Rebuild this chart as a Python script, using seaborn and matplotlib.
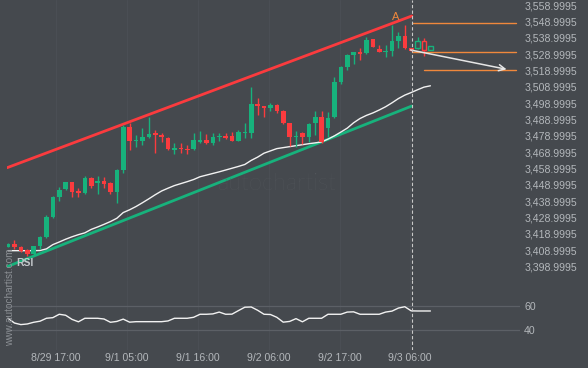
import numpy as np
import pandas as pd
import matplotlib
matplotlib.use("Agg")
import matplotlib.pyplot as plt
from matplotlib.patches import Rectangle
import seaborn as sns

# ---------------- data ----------------
opens = [3411.2, 3412.9, 3410.9, 3409.2, 3406.6, 3411.6, 3417.0, 3429.6, 3441.8, 3446.5,
         3450.6, 3445.3, 3443.9, 3453.4, 3450.0, 3451.6, 3450.0, 3444.9, 3458.1, 3484.6,
         3475.8, 3476.0, 3478.1, 3480.9, 3479.5, 3477.9, 3470.3, 3471.8, 3471.0, 3470.8,
         3475.4, 3476.5, 3474.8, 3478.5, 3478.9, 3478.9, 3476.0, 3480.6, 3480.6, 3498.5,
         3497.2, 3496.2, 3497.9, 3494.2, 3486.7, 3478.1, 3480.9, 3478.1, 3487.0, 3490.7,
         3483.6, 3490.7, 3511.7, 3521.3, 3528.4, 3530.4, 3529.5, 3538.2, 3532.1, 3530.4,
         3531.0, 3537.2, 3540.0, 3532.5, 3532.5, 3537.2, 3531.5]
highs = [3413.2, 3415.3, 3411.6, 3409.6, 3411.8, 3418.0, 3430.6, 3442.4, 3447.5, 3451.0,
         3451.0, 3447.3, 3454.5, 3454.0, 3454.5, 3453.7, 3450.5, 3458.5, 3485.6, 3486.7,
         3479.5, 3483.6, 3490.7, 3482.6, 3480.6, 3478.2, 3474.4, 3474.4, 3473.4, 3480.6,
         3482.0, 3479.9, 3480.9, 3480.6, 3480.6, 3481.5, 3482.6, 3486.7, 3509.0, 3502.0,
         3497.5, 3499.3, 3498.2, 3495.0, 3487.0, 3482.1, 3481.5, 3486.7, 3494.4, 3494.4,
         3493.8, 3515.2, 3521.6, 3528.8, 3530.4, 3532.5, 3539.6, 3538.5, 3534.5, 3534.5,
         3546.8, 3542.7, 3546.8, 3532.8, 3539.3, 3538.6, 3534.0]
lows = [3410.9, 3409.8, 3408.0, 3405.5, 3405.5, 3409.8, 3416.5, 3429.0, 3439.4, 3446.0,
        3441.8, 3441.8, 3443.5, 3446.9, 3443.4, 3446.9, 3443.4, 3437.8, 3456.1, 3470.3,
        3472.4, 3473.4, 3477.5, 3468.3, 3475.1, 3470.5, 3467.7, 3468.3, 3467.9, 3470.5,
        3474.4, 3474.0, 3473.4, 3476.0, 3476.9, 3475.6, 3475.6, 3477.5, 3477.5, 3491.7,
        3490.7, 3494.2, 3492.8, 3486.3, 3472.8, 3472.4, 3474.0, 3475.4, 3479.5, 3474.4,
        3478.5, 3489.9, 3510.5, 3519.3, 3522.7, 3525.4, 3528.9, 3533.3, 3530.2, 3527.0,
        3527.8, 3532.5, 3532.0, 3530.8, 3532.3, 3527.8, 3531.3]
closes = [3412.9, 3410.9, 3408.8, 3406.6, 3411.6, 3417.0, 3429.6, 3441.8, 3445.9, 3450.6,
          3444.9, 3443.9, 3453.4, 3448.5, 3451.6, 3449.4, 3444.9, 3458.1, 3484.6, 3476.0,
          3476.5, 3478.5, 3480.1, 3479.5, 3478.1, 3470.8, 3471.8, 3470.8, 3470.3, 3476.5,
          3476.5, 3474.8, 3478.5, 3478.9, 3477.9, 3476.0, 3481.5, 3481.2, 3498.5, 3497.2,
          3496.2, 3497.9, 3494.4, 3486.7, 3478.1, 3478.5, 3478.1, 3486.2, 3490.7, 3475.4,
          3489.7, 3512.1, 3521.3, 3528.4, 3530.1, 3528.9, 3537.6, 3533.5, 3530.4, 3531.1,
          3537.2, 3540.0, 3532.5, 3531.1, 3537.2, 3531.5, 3533.9]
moving_avg = [3408.8, 3408.8, 3408.8, 3408.8, 3408.8, 3408.9, 3409.9, 3412.5, 3414.1, 3415.8,
              3417.3, 3418.6, 3419.7, 3421.8, 3423.3, 3424.9, 3426.6, 3428.6, 3432.1, 3433.8,
              3435.8, 3438.1, 3440.5, 3443.0, 3445.3, 3447.0, 3448.6, 3449.8, 3451.0, 3452.3,
              3454.0, 3455.0, 3456.0, 3457.0, 3458.1, 3459.2, 3460.3, 3461.5, 3464.0, 3466.0,
              3468.4, 3469.8, 3471.2, 3471.8, 3472.4, 3473.0, 3473.6, 3474.2, 3474.7, 3475.3,
              3477.0, 3479.0, 3481.3, 3483.7, 3487.0, 3489.6, 3491.5, 3493.0, 3494.8, 3496.8,
              3499.2, 3501.8, 3503.9, 3505.5, 3507.2, 3508.8, 3509.6]
rsi = [49.9, 46.0, 44.7, 45.2, 46.6, 47.5, 49.9, 50.4, 53.2, 52.4,
       49.0, 47.0, 49.9, 49.9, 49.9, 49.3, 46.6, 47.3, 49.2, 46.7,
       47.1, 47.1, 47.1, 47.1, 47.1, 47.7, 49.9, 49.9, 49.9, 50.7,
       53.2, 53.2, 53.5, 55.0, 53.2, 53.3, 56.2, 59.0, 59.2, 56.5,
       53.2, 53.0, 50.7, 46.7, 47.3, 49.6, 47.0, 49.9, 49.9, 49.9,
       53.2, 53.2, 53.2, 55.0, 55.2, 53.2, 53.2, 53.2, 53.2, 55.0,
       55.8, 58.3, 59.4, 56.0, 55.9, 55.9, 55.9]
hollow_start = 64          # candles after the pattern end are drawn hollow

resist_x = [-0.16, 63.1]
resist_y = [3459.5, 3552.3]
support_x = [-0.16, 63.1]
support_y = [3399.0, 3497.25]

level_y = [3547.8, 3530.1, 3519.4]
level_x0 = [63.1, 63.1, 65.0]
level_x1 = 79.4
arrow_from = (62.9, 3531.5)
arrow_to = (77.9, 3519.7)
pattern_end = 63.1
point_label = ("A", 60.5, 3551.9)

x_tick_pos = [7.5, 18.6, 29.7, 40.8, 51.9, 62.8]
x_tick_labels = ["8/29 17:00", "9/1 05:00", "9/1 16:00", "9/2 06:00", "9/2 17:00", "9/3 06:00"]
price_ticks = [3398.9995, 3408.9995, 3418.9995, 3428.9995, 3438.9995, 3448.9995,
               3458.9995, 3468.9995, 3478.9995, 3488.9995, 3498.9995, 3508.9995,
               3518.9995, 3528.9995, 3538.9995, 3548.9995, 3558.9995]
rsi_ticks = [40, 60]

# ---------------- style ----------------
BG = "#45494e"
GREEN = "#17b27c"
RED = "#fb3b3e"
ORANGE = "#f0883c"
TXT = "#b3b7bb"

sns.set_theme(style="dark")
plt.rcParams["font.family"] = ["Liberation Sans", "DejaVu Sans"]

W, H = 588, 368
fig = plt.figure(figsize=(W / 100, H / 100), dpi=100, facecolor=BG)
ax = fig.add_axes([7 / W, 1 - 280 / H, 513 / W, 280 / H], facecolor=BG)
axr = fig.add_axes([7 / W, 1 - 350 / H, 513 / W, 70 / H], facecolor=BG, sharex=ax)

# faint logo watermark
for bx, bh in zip([186, 193, 200, 214, 221, 232], [10, 14, 12, 22, 16, 30]):
    fig.add_artist(Rectangle((bx / W, 1 - 190 / H), 3.5 / W, bh / H,
                             transform=fig.transFigure, color="#52565b", zorder=0))
fig.text(277 / W, 1 - 184 / H, "autochartist", ha="center", va="center",
         fontsize=17, color="#55595e", family=["Lato", "DejaVu Sans"],
         fontweight="light", zorder=0)

idx = np.arange(len(opens))
df = pd.DataFrame({"i": idx, "o": opens, "h": highs, "l": lows, "c": closes,
                   "ma": moving_avg, "rsi": rsi})

# vertical faint grid
for t in x_tick_pos:
    ax.axvline(t, color="#4a4e54", lw=0.8, zorder=0)
    axr.axvline(t, color="#4a4e54", lw=0.8, zorder=0)

# trend lines
sns.lineplot(x=resist_x, y=resist_y, ax=ax, color=RED, lw=2.0, zorder=3)
sns.lineplot(x=support_x, y=support_y, ax=ax, color=GREEN, lw=2.0, zorder=3)
# moving average
sns.lineplot(data=df, x="i", y="ma", ax=ax, color="#f2f2f2", lw=1.0, zorder=3)

# candles
bw = 0.72
for r in df.itertuples():
    up = r.c >= r.o
    col = GREEN if up else RED
    lo, hi = min(r.o, r.c), max(r.o, r.c)
    hgt = max(hi - lo, 0.6)
    ax.vlines(r.i, r.l, r.h, color=col, lw=1, zorder=4)
    if r.i >= hollow_start:
        ax.bar(r.i, hgt, bottom=lo, width=bw, facecolor=BG, edgecolor=col, lw=1, zorder=5)
    else:
        ax.bar(r.i, hgt, bottom=lo, width=bw, color=col, lw=0, zorder=5)

# pattern levels and forecast arrow
for y0, x0 in zip(level_y, level_x0):
    ax.plot([x0, level_x1], [y0, y0], color=ORANGE, lw=1, zorder=3)
ax.annotate("", xy=arrow_to, xytext=arrow_from,
            arrowprops=dict(arrowstyle="->", color="#e6e6e6", lw=1.1, mutation_scale=11,
                            shrinkA=0, shrinkB=0), zorder=6)
ax.text(point_label[1], point_label[2], point_label[0], color=ORANGE, fontsize=8,
        ha="center", va="center", zorder=6)

# dashed pattern end
for a in (ax, axr):
    a.axvline(pattern_end, color="#c9c9c9", lw=0.8, ls=(0, (3, 2)), zorder=6)

# RSI panel
for t in rsi_ticks:
    axr.axhline(t, color="#5c6066", lw=0.9, zorder=1)
sns.lineplot(data=df, x="i", y="rsi", ax=axr, color="#f2f2f2", lw=1.0, zorder=3)

# axes formatting
ax.set_xlim(-0.16, 80.0)
ax.set_ylim(3390.87, 3562.06)
axr.set_ylim(23.79, 81.4)

ax.yaxis.tick_right()
ax.set_yticks(price_ticks)
ax.set_yticklabels([f"{v:,.4f}" for v in price_ticks])
axr.yaxis.tick_right()
axr.set_yticks(rsi_ticks)
axr.set_yticklabels([str(v) for v in rsi_ticks])
axr.set_xticks(x_tick_pos)
axr.set_xticklabels(x_tick_labels)
ax.tick_params(axis="x", bottom=False, labelbottom=False)
for a in (ax, axr):
    a.tick_params(axis="both", length=0, labelsize=7.6, colors=TXT, pad=3)
    a.set_xlabel("")
    a.set_ylabel("")
    a.grid(False)
    for s in a.spines.values():
        s.set_visible(False)
axr.tick_params(axis="x", pad=2)

fig.text(16 / W, 1 - 262.5 / H, "RSI", color="#c4c8cc", fontsize=7.5,
         fontweight="bold", ha="left", va="center", zorder=7)
fig.text(10.5 / W, 1 - 297 / H, "www.autochartist.com", color="#8b8f94", fontsize=7.2,
         rotation=90, ha="center", va="center", zorder=7)

fig.savefig("out.png", dpi=100, facecolor=BG)
